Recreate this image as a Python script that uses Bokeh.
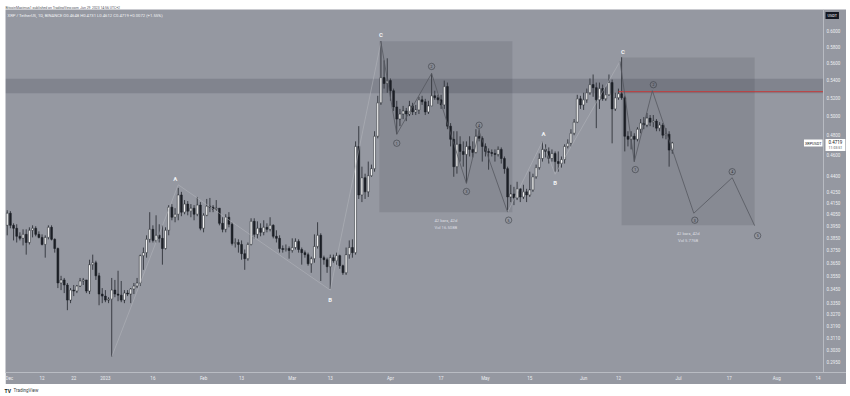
import pandas as pd
from bokeh.plotting import figure
from bokeh.models import (Range1d, FixedTicker, PrintfTickFormatter, CustomJSTickFormatter,
                          ColumnDataSource, BoxAnnotation, Label, Spacer, Span)
from bokeh.layouts import column, row
from bokeh.embed import file_html
from bokeh.resources import INLINE
from bokeh.core.properties import value

FONT = "Roboto"
BG = "#9598a1"

# ---------------- data (XRP / TetherUS, 1D) ----------------
first_open = 0.3956
closes = [
    .4060, .3956, .3931, .3864, .3847, .3880, .3813, .3914, .3931, .3880,
    .3855, .3797, .3855, .3939, .3839, .3764, .3496, .3519, .3481, .3370,
    .3443, .3436, .3473, .3511, .3519, .3436, .3636, .3651, .3550, .3414,
    .3399, .3370, .3377, .3443, .3414, .3406, .3370, .3421, .3414, .3451,
    .3473, .3496, .3707, .3731, .3839, .3922, .3830, .3872, .3847, .3764,
    .3914, .4113, .4025, .4051, .4222, .4069, .4140, .4078, .4104, .4051,
    .4131, .3931, .4042, .4122, .4113, .4095, .4104, .3973, .3922, .4025,
    .3965, .3805, .3813, .3797, .3723, .3683, .3797, .3990, .3880, .3931,
    .3897, .3939, .3922, .3956, .3864, .3847, .3764, .3756, .3764, .3748,
    .3772, .3822, .3756, .3731, .3715, .3643, .3683, .3781, .3872, .3691,
    .3675, .3620, .3691, .3667, .3707, .3628, .3573, .3715, .3772, .3731,
    .4685, .4222, .4381, .4250, .4400, .4467, .4788, .5144, .5430, .5361,
    .5395, .5279, .5099, .4968, .5022, .5055, .5022, .5110, .5044, .5066,
    .5177, .5155, .5044, .5110, .5222, .5200, .5177, .5121, .5326, .4893,
    .4757, .4486, .4706, .4635, .4605, .4685, .4655, .4625, .4788, .4767,
    .4685, .4635, .4625, .4615, .4605, .4655, .4565, .4467, .4204, .4231,
    .4195, .4278, .4204, .4250, .4222, .4268, .4390, .4477, .4565, .4655,
    .4635, .4565, .4615, .4535, .4516, .4555, .4685, .4716, .4819, .4935,
    .5188, .5121, .5177, .5256, .5349, .5314, .5177, .5303, .5188, .5233,
    .5372, .5077, .5200, .5245, .5200, .4788, .4757, .4788, .4757, .4861,
    .4925, .4904, .4978, .4935, .4946, .4872, .4904, .4799, .4809, .4648,
    .4719,
]
highs = [
    .4086, .4078, .3973, .3965, .3897, .3922, .3922, .3939, .3956, .3948,
    .3905, .3880, .3872, .3956, .3956, .3847, .3772, .3550, .3534, .3496,
    .3458, .3481, .3481, .3534, .3534, .3519, .3675, .3715, .3667, .3573,
    .3458, .3443, .3391, .3534, .3519, .3589, .3511, .3443, .3443, .3458,
    .3496, .3534, .3715, .3772, .3872, .4069, .3956, .4042, .3965, .3956,
    .3939, .4131, .4140, .4104, .4287, .4250, .4176, .4167, .4140, .4131,
    .4204, .4158, .4060, .4186, .4195, .4131, .4176, .4104, .4025, .4051,
    .4069, .3982, .3847, .3839, .3830, .3756, .3813, .4016, .4016, .3990,
    .3973, .3999, .3973, .4025, .3965, .3914, .3872, .3789, .3797, .3781,
    .3847, .3847, .3839, .3772, .3748, .3731, .3699, .3880, .3982, .3889,
    .3707, .3691, .3715, .3715, .3731, .3715, .3636, .3772, .3830, .3839,
    .4736, .4893, .4486, .4419, .4535, .4506, .4840, .5222, .5871, .5634,
    .5659, .5419, .5303, .5166, .5077, .5110, .5088, .5166, .5144, .5121,
    .5211, .5222, .5188, .5166, .5478, .5279, .5233, .5233, .5395, .5372,
    .4925, .4840, .4840, .4788, .4736, .4736, .4788, .4736, .4861, .4861,
    .4788, .4716, .4665, .4655, .4655, .4685, .4675, .4585, .4486, .4315,
    .4296, .4343, .4278, .4315, .4278, .4438, .4419, .4506, .4615, .4736,
    .4706, .4675, .4655, .4635, .4635, .4585, .4706, .4757, .4861, .4968,
    .5233, .5222, .5256, .5303, .5419, .5466, .5372, .5372, .5349, .5326,
    .5466, .5407, .5256, .5303, .5672, .5222, .4840, .4840, .4819, .4882,
    .4968, .4989, .5033, .5011, .5011, .4968, .4935, .4925, .4872, .4840,
    .4731,
]
lows = [
    .3872, .3931, .3830, .3813, .3830, .3789, .3715, .3797, .3855, .3864,
    .3847, .3789, .3691, .3839, .3830, .3731, .3458, .3443, .3421, .3298,
    .3348, .3399, .3421, .3466, .3481, .3421, .3414, .3596, .3519, .3333,
    .3348, .3355, .3348, .2984, .3391, .3362, .3355, .3348, .3399, .3348,
    .3414, .3458, .3473, .3596, .3691, .3813, .3813, .3813, .3813, .3636,
    .3756, .3872, .3999, .3982, .3999, .4034, .4051, .4042, .4025, .3999,
    .4034, .3914, .3897, .4034, .4069, .4069, .4078, .3956, .3897, .3897,
    .3939, .3789, .3772, .3731, .3675, .3596, .3667, .3789, .3847, .3847,
    .3864, .3872, .3897, .3905, .3847, .3813, .3731, .3731, .3740, .3683,
    .3731, .3756, .3731, .3636, .3691, .3628, .3573, .3651, .3764, .3511,
    .3636, .3573, .3451, .3651, .3636, .3604, .3557, .3557, .3683, .3691,
    .3715, .4186, .4158, .4186, .4204, .4390, .4438, .4767, .5121, .5303,
    .5256, .5166, .5055, .4809, .4893, .4968, .4946, .5000, .5011, .5011,
    .5022, .5121, .5011, .5022, .5110, .5177, .5133, .5077, .5077, .4861,
    .4685, .4390, .4419, .4535, .4486, .4334, .4585, .4575, .4615, .4736,
    .4535, .4585, .4457, .4585, .4535, .4585, .4516, .4419, .4086, .4158,
    .4131, .4176, .4158, .4186, .4158, .4204, .4250, .4371, .4457, .4535,
    .4575, .4516, .4535, .4438, .4438, .4477, .4516, .4665, .4685, .4799,
    .4925, .5077, .5066, .5144, .5233, .5211, .4872, .5077, .5166, .5166,
    .5222, .4716, .5055, .5177, .5177, .4635, .4685, .4655, .4535, .4736,
    .4819, .4861, .4882, .4893, .4882, .4840, .4840, .4767, .4757, .4486,
    .4612,
]

# Elliott wave drawings
abc1_dates = ["2023-01-03", "2023-01-24", "2023-03-13", "2023-03-29"]
abc1_prices = [0.2984, 0.4315, 0.3443, 0.5860]
imp1_dates = ["2023-03-29", "2023-04-03", "2023-04-14", "2023-04-25", "2023-04-29", "2023-05-08"]
imp1_prices = [0.5860, 0.4809, 0.5478, 0.4327, 0.4840, 0.4069]
abc2_dates = ["2023-05-08", "2023-05-19", "2023-05-23", "2023-06-12 12:00"]
abc2_prices = [0.4069, 0.4736, 0.4413, 0.5622]
imp2_dates = ["2023-06-12 12:00", "2023-06-17", "2023-06-22 17:00", "2023-07-05 19:00",
              "2023-07-17 22:00", "2023-07-25"]
imp2_prices = [0.5622, 0.4535, 0.5279, 0.4060, 0.4381, 0.3953]
letters = ["A", "B", "C"]
numbers = ["1", "2", "3", "4", "5"]

# date-price range boxes
box_starts = ["2023-03-28 12:00", "2023-06-13 00:00"]
box_ends = ["2023-05-09 12:00", "2023-07-25 00:00"]
box_tops = [0.5870, 0.5668]
box_bottoms = [0.4069, 0.3956]
box_bars = ["42 bars, 42d", "42 bars, 42d"]
box_vols = ["Vol 16.508B", "Vol 5.776B"]

zone_top, zone_bottom = 0.5415, 0.5250
red_level, red_from = 0.5268, "2023-06-12"

last_price = 0.4719
legend_text = "XRP / TetherUS, 1D, BINANCE   O0.4648  H0.4731  L0.4612  C0.4719  +0.0072 (+1.55%)"

xtick_dates = ["2022-12-01 12:00", "2022-12-12", "2022-12-22", "2023-01-01", "2023-01-16",
               "2023-02-01", "2023-02-13", "2023-03-01", "2023-03-13", "2023-04-01",
               "2023-04-17", "2023-05-01", "2023-05-15", "2023-06-01", "2023-06-12",
               "2023-07-01", "2023-07-17", "2023-08-01", "2023-08-14"]
xtick_labels = ["Dec", "12", "22", "2023", "16", "Feb", "13", "Mar", "13", "Apr",
                "17", "May", "15", "Jun", "12", "Jul", "17", "Aug", "14"]
yticks = [0.60, 0.58, 0.56, 0.54, 0.52, 0.50, 0.48, 0.46, 0.44, 0.425, 0.415, 0.405,
          0.395, 0.385, 0.375, 0.365, 0.355, 0.345, 0.335, 0.327, 0.319, 0.311, 0.303, 0.295]


def dt(lst):
    return pd.to_datetime(pd.Series(lst), format="ISO8601")


# ---------------- build ----------------
dates = pd.date_range("2022-12-01", periods=len(closes), freq="D")
opens = [first_open] + closes[:-1]
up = [c >= o for o, c in zip(opens, closes)]
src = ColumnDataSource(dict(
    date=dates, open=opens, high=highs, low=lows, close=closes,
    top=[max(o, c) for o, c in zip(opens, closes)],
    bottom=[min(o, c) for o, c in zip(opens, closes)],
    fill=["#ffffff" if u else "#1c1f26" for u in up],
))

x_start = pd.Timestamp("2022-11-30 11:00")
x_split = pd.Timestamp("2023-08-15 18:00")   # border between chart pane and price scale
x_end = pd.Timestamp("2023-08-23 00:10")
y_lo, y_hi = 0.28856, 0.62830

p = figure(width=841, height=375, x_axis_type="datetime", y_axis_type="log",
           x_range=Range1d(x_start, x_end), y_range=Range1d(y_lo, y_hi),
           y_axis_location="right", toolbar_location=None, output_backend="svg",
           background_fill_color=BG, border_fill_color=BG,
           min_border_left=0, min_border_top=0, min_border_right=0, min_border_bottom=12)
p.outline_line_color = None
p.grid.visible = False

# resistance zone
p.add_layout(BoxAnnotation(bottom=zone_bottom, top=zone_top, right=x_split, fill_color="#131722",
                           fill_alpha=0.15, line_alpha=0, level="underlay"))

# range boxes
b_left, b_right = dt(box_starts), dt(box_ends)
bsrc = ColumnDataSource(dict(
    left=b_left, right=b_right, top=box_tops, bottom=box_bottoms,
    mid=b_left + (b_right - b_left) / 2, bars=box_bars, vols=box_vols))
p.quad(left="left", right="right", top="top", bottom="bottom", source=bsrc,
       fill_color="#131722", fill_alpha=0.10, line_alpha=0)

# candles
bw = 0.6 * 86400000
p.segment(x0="date", y0="high", x1="date", y1="low", source=src,
          line_color="#3a3d44", line_width=1)
p.vbar(x="date", width=bw, top="top", bottom="bottom", source=src,
       fill_color="fill", line_color="#1b1e25", line_width=0.5)

# red level line
p.segment(x0=[pd.Timestamp(red_from)], y0=[red_level], x1=[x_split], y1=[red_level],
          line_color="#c53b3b", line_width=1)

# wave lines
for d, pr in ((abc1_dates, abc1_prices), (abc2_dates, abc2_prices)):
    p.line(dt(d), pr, line_color="#b5b7bd", line_alpha=0.85, line_width=0.6)
for d, pr in ((imp1_dates, imp1_prices), (imp2_dates, imp2_prices)):
    p.line(dt(d), pr, line_color="#55585f", line_width=0.8)

# wave letters
lsrc = ColumnDataSource(dict(
    x=dt(abc1_dates[1:] + abc2_dates[1:]),
    y=abc1_prices[1:] + abc2_prices[1:],
    t=letters + letters,
    dx=[-3, 0, 0, 1, 0, 3], dy=[-6, 9, -8, -8, 8, -10]))
p.text(x="x", y="y", text="t", x_offset="dx", y_offset="dy", source=lsrc,
       text_color="#f1f2f4", text_font=value(FONT), text_font_style="bold",
       text_font_size="6px", text_align="center", text_baseline="middle")

# circled wave numbers
nsrc = ColumnDataSource(dict(
    x=dt(imp1_dates[1:] + imp2_dates[1:]),
    y=imp1_prices[1:] + imp2_prices[1:],
    t=numbers + numbers,
    dx=[0, 0, 0, 0, 1, 1, 1, 1, 0, 3], dy=[9, -7, 8, -6, 8, 8, -6, 7, -6, 10]))
p.text(x="x", y="y", text="t", x_offset="dx", y_offset="dy", source=nsrc,
       text_color="#2b2e35", text_font=value(FONT), text_font_size="3.5px",
       text_align="center", text_baseline="middle",
       outline_shape="circle", border_line_color="#3b3e45", border_line_width=0.6, padding=1)

# box captions
p.text(x="mid", y="bottom", text="bars", source=bsrc, y_offset=8,
       text_color="#dcdee2", text_font=value(FONT), text_font_size="4.2px",
       text_align="center", text_baseline="middle")
p.text(x="mid", y="bottom", text="vols", source=bsrc, y_offset=15,
       text_color="#dcdee2", text_font=value(FONT), text_font_size="4.2px",
       text_align="center", text_baseline="middle")

# price-scale separator
p.add_layout(Span(location=x_split.value // 10**6, dimension="height",
                  line_color="#b9bcc3", line_width=1))

# axes
xtick_ms = [int(pd.Timestamp(d).value // 10**6) for d in xtick_dates]
p.xaxis.ticker = FixedTicker(ticks=xtick_ms)
p.xaxis.formatter = CustomJSTickFormatter(
    args=dict(tvals=xtick_ms, tlabels=xtick_labels),
    code="const i = tvals.indexOf(tick); return i >= 0 ? tlabels[i] : '';")
p.yaxis.ticker = FixedTicker(ticks=yticks)
p.yaxis.formatter = PrintfTickFormatter(format="%.4f")
for ax in (p.xaxis[0], p.yaxis[0]):
    ax.major_tick_out = 0
    ax.major_tick_in = 0
    ax.minor_tick_out = 0
    ax.minor_tick_in = 0
    ax.major_tick_line_color = None
    ax.minor_tick_line_color = None
    ax.axis_line_color = "#b9bcc3"
    ax.major_label_text_color = "#eceef1"
    ax.major_label_text_font = FONT
    ax.major_label_text_font_size = "4.5px"
    ax.major_label_standoff = 3
p.yaxis.axis_line_color = None
p.yaxis.major_label_standoff = -20   # labels sit inside the price-scale strip

# legend & price markers
p.add_layout(Label(x=x_start, y=y_hi, x_offset=2, y_offset=-6, text=legend_text,
                   text_font=FONT, text_font_size="4.2px", text_color="#f2f3f5",
                   text_baseline="middle", text_align="left"))
p.add_layout(Label(x=x_split, y=last_price, x_offset=-1, text="XRPUSDT",
                   text_font=FONT, text_font_size="3.8px", text_color="#131722",
                   text_baseline="middle", text_align="right",
                   background_fill_color="#ffffff", padding=1))
p.add_layout(Label(x=x_split, y=last_price, x_offset=2, y_offset=1, text="0.4719",
                   text_font=FONT, text_font_size="4.5px", text_color="#131722",
                   text_baseline="middle", text_align="left",
                   background_fill_color="#ffffff", padding=(3, 1)))
p.add_layout(Label(x=x_split, y=last_price, x_offset=2, y_offset=-5, text="11:03:51",
                   text_font=FONT, text_font_size="3.6px", text_color="#50535b",
                   text_baseline="middle", text_align="left",
                   background_fill_color="#ffffff", padding=(3, 1)))
p.add_layout(Label(x=x_split, y=y_hi, x_offset=2, y_offset=-6, text="USDT",
                   text_font=FONT, text_font_size="3.8px", text_color="#ffffff",
                   text_baseline="middle", text_align="left",
                   background_fill_color="#131722", padding=(2, 1)))

# header / footer strips
header = figure(width=850, height=9, x_range=Range1d(0, 850), y_range=Range1d(0, 9),
                x_axis_type=None, y_axis_type=None, toolbar_location=None, output_backend="svg",
                min_border=0, background_fill_color="#ffffff", border_fill_color="#ffffff")
header.outline_line_color = None
header.grid.visible = False
header.text(x=[5], y=[4.5], text=["BitcoinMaximus1 published on TradingView.com, Jun 29, 2023 14:56 UTC+2"],
            text_font=value(FONT), text_font_size="3.4px", text_color="#50535b",
            text_baseline="middle", text_align="left")

footer = figure(width=850, height=12, x_range=Range1d(0, 850), y_range=Range1d(0, 12),
                x_axis_type=None, y_axis_type=None, toolbar_location=None, output_backend="svg",
                min_border=0, background_fill_color="#ffffff", border_fill_color="#ffffff")
footer.outline_line_color = None
footer.grid.visible = False
footer.text(x=[4], y=[6], text=["TV"], text_font=value(FONT), text_font_style="bold",
            text_font_size="5px", text_color="#131722", text_baseline="middle", text_align="left")
footer.text(x=[13], y=[6], text=["TradingView"], text_font=value(FONT),
            text_font_size="4.5px", text_color="#3a3d44", text_baseline="middle", text_align="left")

layout = column(header,
                row(Spacer(width=5, height=375), p, Spacer(width=4, height=375)),
                footer)

open("out.html", "w").write(file_html(layout, INLINE))
